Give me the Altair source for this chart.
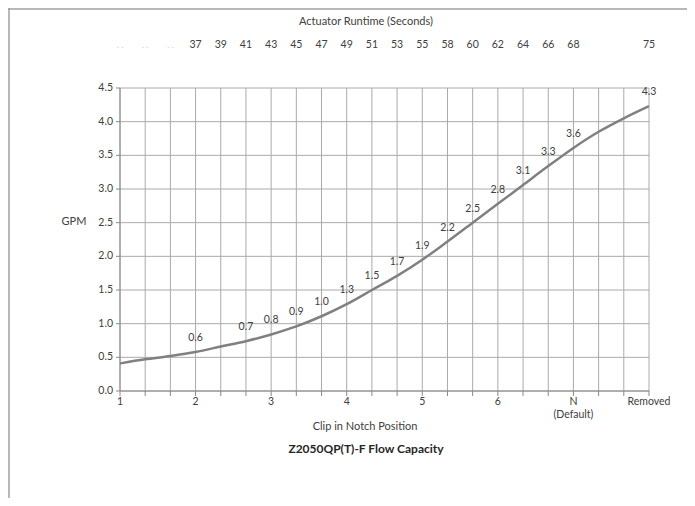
import altair as alt
import pandas as pd

# gridline index 0..21 (3 sub-steps per notch position)
idx = list(range(22))
gpm = [0.41, 0.47, 0.52, 0.58, 0.66, 0.74, 0.84, 0.96, 1.11, 1.29, 1.50,
       1.71, 1.95, 2.22, 2.50, 2.78, 3.06, 3.34, 3.61, 3.85, 4.05, 4.23]

label_idx = [3, 5, 6, 7, 8, 9, 10, 11, 12, 13, 14, 15, 16, 17, 18, 21]
label_txt = ["0.6", "0.7", "0.8", "0.9", "1.0", "1.3", "1.5", "1.7", "1.9",
             "2.2", "2.5", "2.8", "3.1", "3.3", "3.6", "4.3"]

runtime_idx = [3, 4, 5, 6, 7, 8, 9, 10, 11, 12, 13, 14, 15, 16, 17, 18, 21]
runtime_txt = ["37", "39", "41", "43", "45", "47", "49", "51", "53", "55",
               "58", "60", "62", "64", "66", "68", "75"]
faded_idx = [0, 1, 2]

notch_idx = [0, 3, 6, 9, 12, 15, 18, 21]
notch_txt = ["1", "2", "3", "4", "5", "6", "N\n(Default)", "Removed"]

y_ticks = [0.0, 0.5, 1.0, 1.5, 2.0, 2.5, 3.0, 3.5, 4.0, 4.5]

FONT = "Lato"
TXT = "#404040"
GRID = "#aaaaaa"
AX = "#888888"

curve = pd.DataFrame({"i": idx, "gpm": gpm})
labels = pd.DataFrame({"i": label_idx, "t": label_txt,
                       "gpm": [gpm[i] for i in label_idx]})
runtime = pd.DataFrame({"i": runtime_idx, "t": runtime_txt})
faded = pd.DataFrame({"i": faded_idx, "t": ["- -"] * 3})
notch = pd.DataFrame({"i": notch_idx, "t": notch_txt})
yt = pd.DataFrame({"v": y_ticks, "t": [f"{v:.1f}" for v in y_ticks]})
xt = pd.DataFrame({"i": idx})

xs = alt.Scale(domain=[0, 21], nice=False, zero=False)
ys = alt.Scale(domain=[0, 4.5], nice=False)

X = lambda f: alt.X(f, scale=xs, axis=None)
Y = lambda f: alt.Y(f, scale=ys, axis=None)

# gridlines
hgrid = alt.Chart(yt).mark_rule(color=GRID, strokeWidth=1).encode(
    y=Y("v:Q"), x=alt.value(0), x2=alt.value(529))
vgrid = alt.Chart(xt).mark_rule(color=GRID, strokeWidth=1).encode(
    x=X("i:Q"), y=alt.value(0), y2=alt.value(303))
# axis lines and ticks
xdomain = alt.Chart(pd.DataFrame({"a": [0]})).mark_rule(color=AX, strokeWidth=1).encode(
    x=alt.value(0), x2=alt.value(529), y=alt.value(303))
ydomain = alt.Chart(pd.DataFrame({"a": [0]})).mark_rule(color=AX, strokeWidth=1).encode(
    x=alt.value(0), y=alt.value(0), y2=alt.value(303))
xtick = alt.Chart(xt).mark_rule(color=AX, strokeWidth=1).encode(
    x=X("i:Q"), y=alt.value(303), y2=alt.value(308))
ytick = alt.Chart(yt).mark_rule(color=AX, strokeWidth=1).encode(
    y=Y("v:Q"), x=alt.value(-4), x2=alt.value(0))
ylab = alt.Chart(yt).mark_text(font=FONT, fontSize=10.5, color=TXT, align="right",
                               baseline="middle").encode(
    y=Y("v:Q"), x=alt.value(-7), text="t:N")

line = alt.Chart(curve).mark_line(color="#808080", strokeWidth=2.5,
                                  interpolate="monotone").encode(
    x=X("i:Q"), y=Y("gpm:Q"))

val_text = alt.Chart(labels).mark_text(font=FONT, fontSize=10.5, color=TXT, dy=-14).encode(
    x=X("i:Q"), y=Y("gpm:Q"), text="t:N")

top_text = alt.Chart(runtime).mark_text(font=FONT, fontSize=10.5, color=TXT).encode(
    x=X("i:Q"), y=alt.value(-43), text="t:N")

faded_text = alt.Chart(faded).mark_text(font=FONT, fontSize=7, color="#cccccc").encode(
    x=X("i:Q"), y=alt.value(-40), text="t:N")

bottom_text = alt.Chart(notch).mark_text(font=FONT, fontSize=10.5, color=TXT,
                                          baseline="top", lineBreak="\n").encode(
    x=X("i:Q"), y=alt.value(309), text="t:N")

titles = pd.DataFrame({
    "t": ["Actuator Runtime (Seconds)", "Clip in Notch Position", "GPM"],
    "px": [246, 245, -46],
    "py": [-66, 339, 134],
})
title_text = alt.Chart(titles).mark_text(font=FONT, fontSize=11, color=TXT).encode(
    x=alt.X("px:Q", scale=None, axis=None), y=alt.Y("py:Q", scale=None, axis=None),
    text="t:N")

main_title = alt.Chart(pd.DataFrame({"t": ["Z2050QP(T)-F Flow Capacity"]})).mark_text(
    font=FONT, fontSize=12, fontWeight="bold", color="#262626").encode(
    x=alt.value(246), y=alt.value(361), text="t:N")

border_top = alt.Chart(pd.DataFrame({"a": [0]})).mark_rule(color="#a0a0a0", strokeWidth=1.5).encode(
    x=alt.value(-112), x2=alt.value(567), y=alt.value(-79))
border_left = alt.Chart(pd.DataFrame({"a": [0]})).mark_rule(color="#a0a0a0", strokeWidth=1.5).encode(
    x=alt.value(-111), y=alt.value(-80), y2=alt.value(410))

chart = alt.layer(
    hgrid, vgrid, xdomain, ydomain, xtick, ytick, ylab, line, val_text, top_text,
    faded_text, bottom_text, title_text, main_title, border_top, border_left
).properties(
    width=529, height=303,
    padding={"left": 112, "top": 80, "right": 38, "bottom": 107},
    autosize=alt.AutoSizeParams(type="none"),
).configure_view(stroke=None)

chart.save("out.html", embed_options={"renderer": "svg", "actions": False})
